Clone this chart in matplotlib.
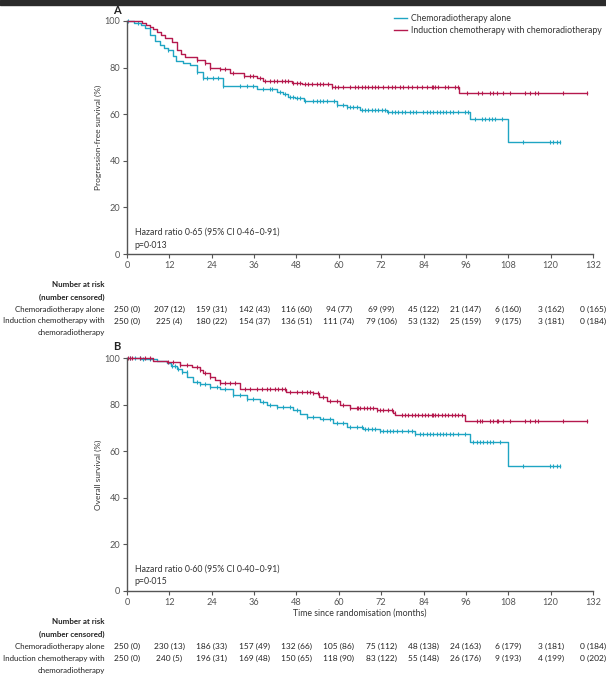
import numpy as np
import matplotlib
matplotlib.use("Agg")
from matplotlib import pyplot as plt
from matplotlib.patches import Rectangle
from matplotlib.transforms import blended_transform_factory

plt.rcParams["font.family"] = ["Lato", "DejaVu Sans"]
FS = 6.0

CYAN = "#1fa5c3"
RED = "#b5194d"
GREY = "#555555"

# ---------------- data ----------------
months = [0, 12, 24, 36, 48, 60, 72, 84, 96, 108, 120, 132]

# A: progression-free survival
pfs_crt_t = [0, 2, 4, 5, 6.5, 8, 9.3, 10.5, 11.6, 13, 14, 16, 17.8, 19.7, 21.6, 27.2,
             36.7, 42.4, 44.3, 45.7, 47.5, 50, 59.4, 62.2, 66, 73.6, 97.2, 108]
pfs_crt_s = [100, 99.2, 98.4, 97, 94, 91.5, 89.7, 88.5, 87.5, 85, 83, 82, 81, 78, 75.4, 72,
             70.7, 69.7, 68.7, 67.4, 66.8, 65.7, 64, 63, 61.8, 61, 57.8, 48]
pfs_crt_cens = [0.4, 3.2, 11.7, 19.7, 21.6, 22.6, 24.5, 25.9, 27.3, 32, 33.9, 35.8, 38.6, 40.5,
                41, 43.3, 44.8, 46.2, 47.1, 48.1, 49, 50.4, 52.8, 53.7, 54.7, 55.6, 56.6, 58.5,
                59.4, 61.3, 62.2, 63.2, 64.1, 65.1, 66.5, 67.4, 68.4, 69.3, 70.3, 71.2, 72.1,
                73.1, 74, 75, 75.9, 76.9, 77.8, 78.7, 80.2, 81.1, 82, 83.9, 84.9, 85.8, 86.8,
                87.7, 88.7, 89.6, 90.5, 91.5, 92.4, 93.9, 95.7, 96.7, 98.6, 100.5, 101.4, 102.4,
                103.3, 104.3, 106.1, 112.3, 119.8, 120.8, 121.7, 122.7]

pfs_ind_t = [0, 4.2, 5.5, 6.4, 7.5, 8.4, 9.6, 10.8, 12.7, 14.1, 15.3, 16.4, 19.7, 22, 23.5,
             26.3, 29.2, 33, 36.7, 38.6, 46.6, 49.5, 58, 94]
pfs_ind_s = [100, 99.2, 98.3, 97.5, 96.5, 95.4, 94, 92.6, 91, 87.5, 86, 84.7, 83.3, 82, 80,
             79.3, 77.5, 76.4, 75.4, 74.4, 73.5, 72.8, 71.8, 69.2]
pfs_ind_cens = [19.7, 22.1, 23.5, 26.3, 27.8, 30.1, 33, 34.8, 35.8, 37.7, 39.1, 40.5, 41.5, 42.4,
                43.8, 44.8, 45.7, 47.1, 48.1, 49, 50.4, 51.4, 52.3, 53.7, 54.7, 55.6, 57, 58,
                58.9, 59.9, 61.3, 63.2, 64.6, 65.5, 66.5, 67.4, 68.4, 69.3, 70.3, 71.2, 72.6, 74,
                75, 75.9, 77.3, 78.3, 79.7, 80.6, 82.2, 83.5, 84.9, 86.3, 86.8, 87.2, 88.2, 90.1,
                91, 92.9, 93.9, 96.2, 99.5, 100.5, 102.8, 103.8, 104.7, 106.6, 108.5, 112.7,
                114.2, 115.6, 116.5, 123.6, 130.2]

pfs_crt_risk = ["250 (0)", "207 (12)", "159 (31)", "142 (43)", "116 (60)", "94 (77)", "69 (99)",
                "45 (122)", "21 (147)", "6 (160)", "3 (162)", "0 (165)"]
pfs_ind_risk = ["250 (0)", "225 (4)", "180 (22)", "154 (37)", "136 (51)", "111 (74)", "79 (106)",
                "53 (132)", "25 (159)", "9 (175)", "3 (181)", "0 (184)"]

# B: overall survival
os_crt_t = [0, 4, 8.4, 11.2, 12.6, 14.1, 15.5, 17, 18.8, 20.7, 23.5, 26.3, 30.1, 33.9, 37.7,
            39.6, 42.4, 47.1, 49, 50.9, 54.7, 58.4, 62.2, 66.9, 71.7, 81.6, 97.2, 108]
os_crt_s = [100, 99.5, 98.6, 97.7, 96.4, 95.1, 94.2, 92, 89.8, 88.8, 87.7, 86.6, 84.1, 82.4, 81.3,
            79.8, 78.8, 77.7, 76, 74.6, 73.7, 72, 70.5, 69.4, 68.8, 67.2, 64.1, 53.6]
os_crt_cens = [0.85, 2.3, 3.7, 4.6, 6.5, 12.7, 13.6, 14.5, 15.5, 16.9, 19.7, 20.7, 22.1, 23.5,
               25.4, 27.8, 30.1, 32, 33.9, 35.8, 38.6, 40.5, 42.4, 44.3, 46.2, 48.1, 50.9, 52.8,
               55.6, 57.5, 59.4, 61.3, 63.2, 65.1, 66.5, 67.4, 68.4, 69.3, 70.3, 71.7, 72.6, 73.6,
               74.5, 75.4, 76.4, 77.8, 79.7, 80.6, 81.6, 83, 83.9, 84.9, 85.8, 86.8, 87.7, 88.7,
               89.6, 90.5, 91.5, 92.4, 93.9, 95.7, 98.1, 99, 100, 100.9, 101.9, 102.8, 103.8,
               105.7, 112.3, 119.8, 120.8, 121.7, 122.7]

os_ind_t = [0, 7.4, 11.2, 15, 18.3, 20.7, 21.6, 23.5, 24.9, 26.3, 32, 45, 52.7, 54.4, 56.6,
            60.3, 63.2, 70.7, 75.4, 76, 95.8]
os_ind_s = [100, 98.8, 98.3, 97, 96, 94.8, 93.7, 92, 90.5, 89.1, 86.6, 85.5, 84.8, 83.4, 81.7,
            79.8, 78.4, 77.7, 76.3, 75.6, 73.1]
os_ind_cens = [0.4, 0.85, 1.3, 3.7, 5.1, 6.5, 11.7, 13.1, 15, 16.9, 19.7, 20.7, 22.1, 23.5, 26.3,
               27.8, 29.2, 30.6, 33.4, 34.8, 36.7, 38.1, 39.6, 40.5, 41.9, 42.9, 43.8, 44.8, 46.2,
               48.1, 49.5, 50.9, 51.8, 52.8, 54.2, 55.6, 57.5, 59.4, 61.3, 63.2, 65.1, 65.5, 66,
               67, 67.9, 68.8, 69.8, 70.7, 71.7, 72.6, 74, 75, 75.9, 77.8, 78.7, 79.7, 80.6,
               81.6, 82.5, 83.5, 84.4, 85.3, 86.3, 86.8, 87.2, 88.2, 89.1, 90.1, 91, 92, 92.9,
               93.9, 94.8, 99, 100, 100.5, 102.8, 103.8, 104.7, 105.2, 106.6, 108.5, 112.7, 114.2,
               115.6, 116.5, 123.6, 130.2]

os_crt_risk = ["250 (0)", "230 (13)", "186 (33)", "157 (49)", "132 (66)", "105 (86)", "75 (112)",
               "48 (138)", "24 (163)", "6 (179)", "3 (181)", "0 (184)"]
os_ind_risk = ["250 (0)", "240 (5)", "196 (31)", "169 (48)", "150 (65)", "118 (90)", "83 (122)",
               "55 (148)", "26 (176)", "9 (193)", "4 (199)", "0 (202)"]

W, H = 606, 680
fig = plt.figure(figsize=(W / 100, H / 100), dpi=100)
fig.patches.append(Rectangle((0, 1 - 5 / H), 1, 5 / H, transform=fig.transFigure,
                             color="#2b2b2b", zorder=10))


def km(ax, t, s, cens, color, label=None):
    t = np.asarray(t, float)
    s = np.asarray(s, float)
    cens = np.asarray(cens, float)
    t_end = max(t[-1], cens.max())
    tt = np.append(t, t_end)
    ss = np.append(s, s[-1])
    ax.step(tt, ss, where="post", color=color, lw=1.0, clip_on=False, label=label)
    yc = s[np.searchsorted(t, cens, side="right") - 1]
    ax.plot(cens, yc, ls="none", marker="|", ms=3.5, mew=0.8, color=color, clip_on=False)


def panel(top_px, bottom_px, letter, ylabel, curves, hr, p, risk, xlabel=None):
    ax = fig.add_axes([127 / W, 1 - bottom_px / H, 466 / W, (bottom_px - top_px) / H])
    for t, s, c, col, lab in curves:
        km(ax, t, s, c, col, lab)
    ax.set_xlim(0, 132)
    ax.set_ylim(0, 100)
    ax.set_xticks(months)
    ax.set_yticks([0, 20, 40, 60, 80, 100])
    for side in ("top", "right"):
        ax.spines[side].set_visible(False)
    for side in ("left", "bottom"):
        ax.spines[side].set_color(GREY)
        ax.spines[side].set_linewidth(1.0)
    ax.tick_params(colors=GREY, labelsize=FS + 0.6, length=3, width=0.8, pad=2)
    ax.set_ylabel(ylabel, fontsize=FS, color="#333333", labelpad=2)
    if xlabel:
        ax.set_xlabel(xlabel, fontsize=FS + 0.3, color="#333333", labelpad=1)
    ax.text(-10 / 3.53, 100 + 11 / 2.33, letter, fontsize=FS + 2, fontweight="bold",
            color="#222222", ha="center", va="center", clip_on=False)
    ax.text(2.2, 22 / 2.33, hr, fontsize=FS + 0.3, color="#333333", va="center")
    ax.text(2.2, 9 / 2.33, p, fontsize=FS + 0.3, color="#333333", va="center")

    tr = blended_transform_factory(ax.transData, fig.transFigure)
    rows = [("Number at risk", 30, True), ("(number censored)", 43, True),
            ("Chemoradiotherapy alone", 55.5, False), ("Induction chemotherapy with", 67, False),
            ("chemoradiotherapy", 79, False)]
    for txt, dy, bold in rows:
        fig.text(105 / W, 1 - (bottom_px + dy) / H, txt, ha="right", va="center", fontsize=FS - 0.3,
                 color="#222222", fontweight="bold" if bold else "normal")
    for m, a, b in zip(months, risk[0], risk[1]):
        ax.text(m, 1 - (bottom_px + 55.5) / H, a, transform=tr, ha="center", va="center",
                fontsize=FS, color="#222222")
        ax.text(m, 1 - (bottom_px + 67) / H, b, transform=tr, ha="center", va="center",
                fontsize=FS, color="#222222")
    return ax


axA = panel(21, 254, "A", "Progression-free survival (%)",
            [(pfs_crt_t, pfs_crt_s, pfs_crt_cens, CYAN, "Chemoradiotherapy alone"),
             (pfs_ind_t, pfs_ind_s, pfs_ind_cens, RED, "Induction chemotherapy with chemoradiotherapy")],
            "Hazard ratio 0·65 (95% CI 0·46–0·91)", "p=0·013", (pfs_crt_risk, pfs_ind_risk))

axB = panel(358, 591, "B", "Overall survival (%)",
            [(os_crt_t, os_crt_s, os_crt_cens, CYAN, None),
             (os_ind_t, os_ind_s, os_ind_cens, RED, None)],
            "Hazard ratio 0·60 (95% CI 0·40–0·91)", "p=0·015", (os_crt_risk, os_ind_risk),
            xlabel="Time since randomisation (months)")

h, l = axA.get_legend_handles_labels()
fig.legend(h, l, loc="upper right", bbox_to_anchor=(1.0, 1 - 10 / H), frameon=False,
           fontsize=FS + 0.3, handlelength=1.4, handletextpad=0.5, labelspacing=0.35,
           borderaxespad=0.1, labelcolor="#333333")

fig.savefig("out.png", dpi=100)
